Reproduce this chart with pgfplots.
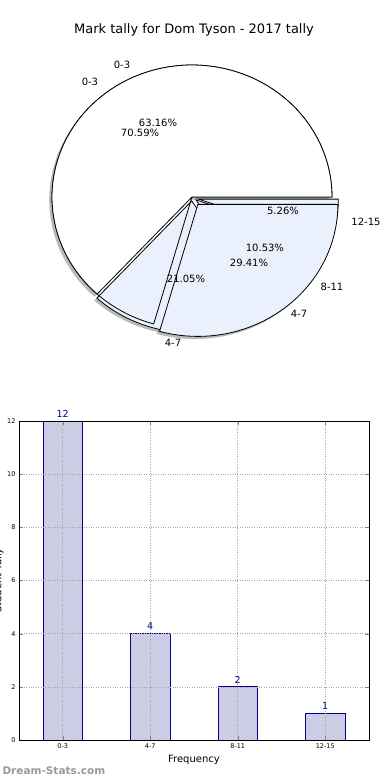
\documentclass[border=0pt]{standalone}
\usepackage{fontspec}
\setmainfont{DejaVu Sans}
\usepackage{pgfplots}
\pgfplotsset{compat=1.18}
\definecolor{pieblue}{HTML}{EAF0FC}
\definecolor{barfill}{HTML}{CCCCE4}
\definecolor{baredge}{HTML}{00008B}
\definecolor{wmgray}{HTML}{999999}
\begin{document}
\begin{tikzpicture}[x=1pt,y=1pt]
\useasboundingbox (0,0) rectangle (390,780);
\node[font=\fontsize{13}{15}\selectfont] at (194,750) {Mark tally for Dom Tyson - 2017 tally};
% ---------------- pie charts ----------------
\begin{axis}[at={(192pt,583pt)}, anchor=origin, x=140pt, y=132pt,
  xmin=-1.3, xmax=1.3, ymin=-1.3, ymax=1.3, hide axis, clip=false,
  samples=90, variable=\t]
% shadows
\addplot[draw=none, fill=black!45, opacity=0.6, domain=0:227.37] ({-0.02+cos(\t)},{-0.02+sin(\t)}) -- (axis cs:-0.02,-0.02) -- cycle;
\addplot[draw=none, fill=black!45, opacity=0.6, domain=227.37:303.16] ({-0.021+cos(\t)},{-0.048+sin(\t)}) -- (axis cs:-0.021,-0.048) -- cycle;
\addplot[draw=none, fill=black!45, opacity=0.6, domain=254.12:360] ({0.022+cos(\t)},{-0.076+sin(\t)}) -- (axis cs:0.022,-0.076) -- cycle;
% pie A: slices 4-7, 8-11, 12-15 (values 4, 2, 1 of 19)
\addplot[draw=black, line width=0.8pt, fill=pieblue, domain=227.37:303.16] ({-0.002+cos(\t)},{-0.03+sin(\t)}) -- (axis cs:-0.002,-0.03) -- cycle;
\addplot[draw=black, line width=0.8pt, fill=pieblue, domain=303.16:341.05] ({0.028+cos(\t)},{-0.022+sin(\t)}) -- (axis cs:0.028,-0.022) -- cycle;
\addplot[draw=black, line width=0.8pt, fill=pieblue, domain=341.05:360] ({0.045+cos(\t)},{-0.016+sin(\t)}) -- (axis cs:0.045,-0.016) -- cycle;
% pie B: slice 0-3 (12 of 17), outline
\addplot[draw=black, line width=0.8pt, fill=none, domain=0:254.12] ({cos(\t)},{sin(\t)}) -- (axis cs:0,0) -- cycle;
% pie A: slice 0-3 (12 of 19)
\addplot[draw=black, line width=0.8pt, fill=white, domain=0:227.37] ({cos(\t)},{sin(\t)}) -- (axis cs:0,0) -- cycle;
% pie B: slice 4-7 (5 of 17), exploded
\addplot[draw=black, line width=0.8pt, fill=pieblue, domain=254.12:360] ({0.042+cos(\t)},{-0.056+sin(\t)}) -- (axis cs:0.042,-0.056) -- cycle;
% labels
\begin{scope}[every node/.style={font=\fontsize{10}{12}\selectfont}]
\node at (axis cs:-0.50,1.00) {0-3};
\node at (axis cs:-0.729,0.871) {0-3};
\node at (axis cs:-0.243,0.561) {63.16\%};
\node at (axis cs:-0.371,0.485) {70.59\%};
\node at (axis cs:0.65,-0.106) {5.26\%};
\node at (axis cs:1.243,-0.189) {12-15};
\node at (axis cs:0.521,-0.386) {10.53\%};
\node at (axis cs:0.407,-0.50) {29.41\%};
\node at (axis cs:-0.043,-0.621) {21.05\%};
\node at (axis cs:1.0,-0.682) {8-11};
\node at (axis cs:0.764,-0.886) {4-7};
\node at (axis cs:-0.136,-1.106) {4-7};
\end{scope}
\end{axis}
% ---------------- bar chart ----------------
\begin{axis}[at={(19pt,40pt)}, anchor=south west, width=350pt, height=319pt, scale only axis,
  xmin=-0.5, xmax=3.5, ymin=0, ymax=12,
  xtick={0,1,2,3}, xticklabels={0-3,4-7,8-11,12-15},
  ytick={0,2,4,6,8,10,12},
  tick label style={font=\fontsize{6.5}{7}\selectfont},
  /pgf/number format/assume math mode=true,
  tick align=inside, major tick length=4pt,
  grid=major, grid style={dotted, black!35, line width=0.6pt},
  axis line style={line width=0.8pt}, axis on top,
  xlabel={Frequency},
  xlabel style={font=\fontsize{10}{12}\selectfont, at={(axis description cs:0.5,-0.063)}, anchor=center},
  ylabel={Student Tally},
  ylabel style={font=\fontsize{10}{12}\selectfont, at={(axis description cs:-0.058,0.5)}, anchor=center},
  ]
\addplot[ybar, bar width=0.45, fill=barfill, draw=baredge, line width=0.8pt,
  nodes near coords, nodes near coords style={font=\fontsize{9.5}{11}\selectfont, text=baredge}]
  coordinates {(0,12) (1,4) (2,2) (3,1)};
\end{axis}
\node[anchor=west, font=\fontsize{10.5}{12}\selectfont\bfseries, text=wmgray] at (-1,9) {Dream-Stats.com};
\end{tikzpicture}
\end{document}
